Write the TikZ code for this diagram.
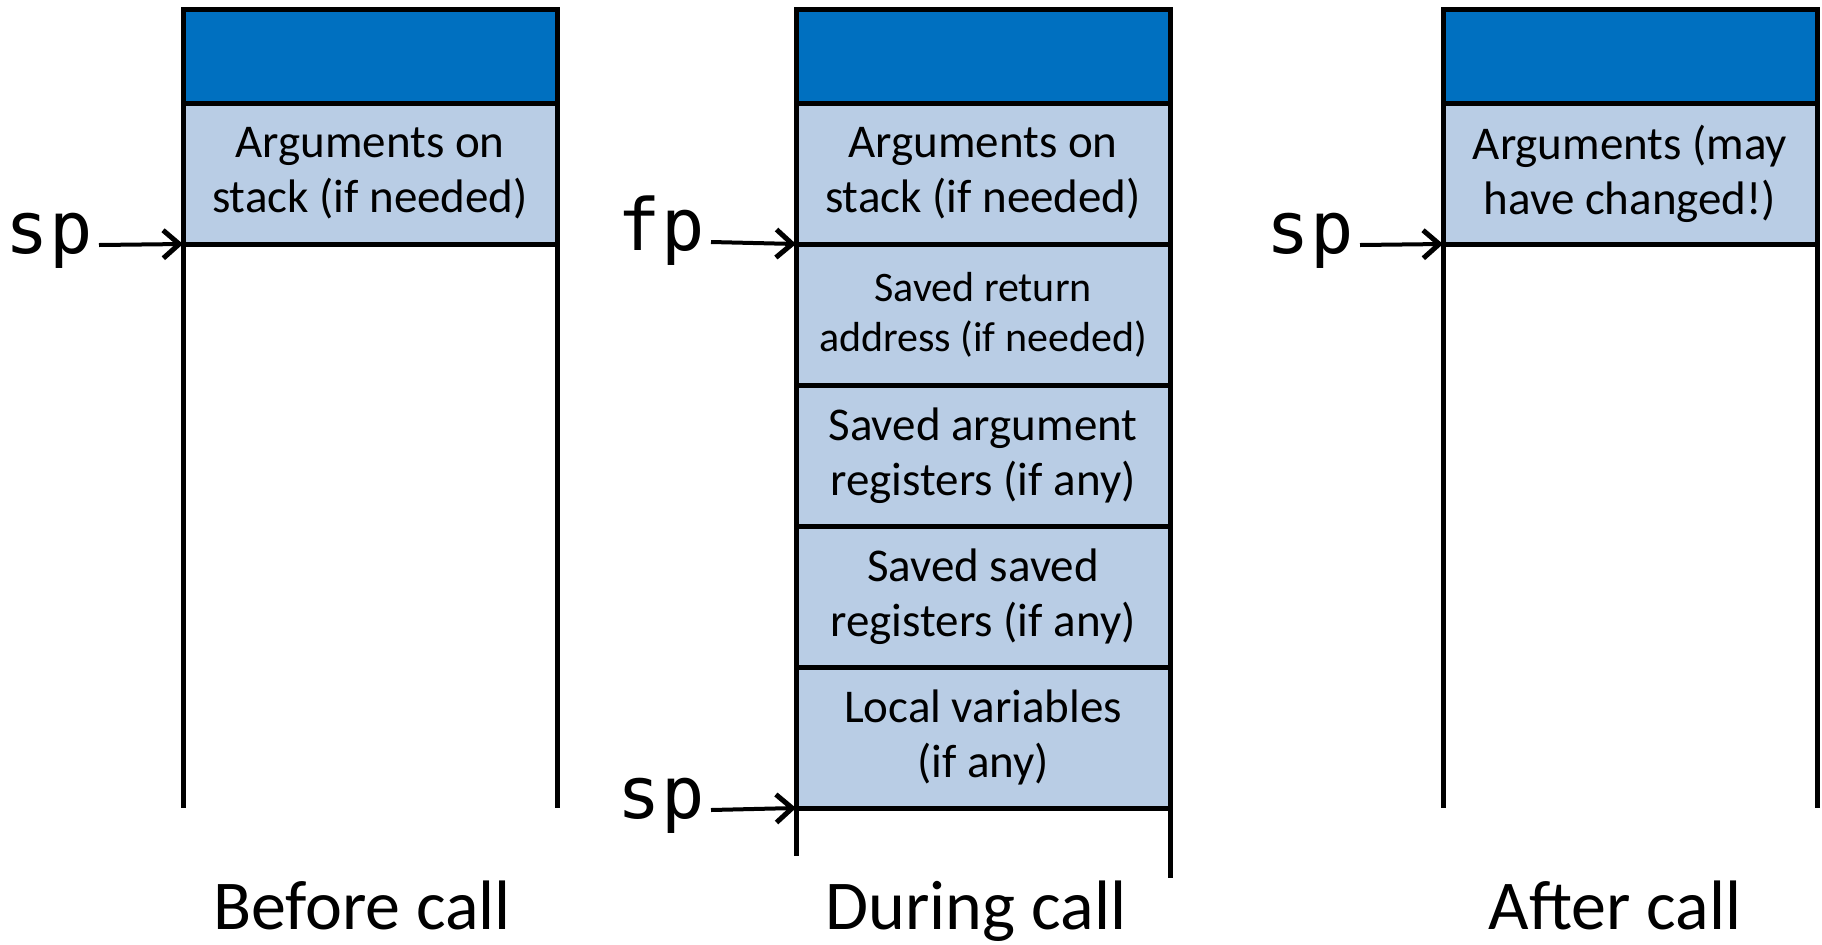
\documentclass[tikz,border=0pt]{standalone}
\usepackage{fontspec}
\setmainfont{Carlito}
\newfontfamily\ptrfont{DejaVu Sans Mono}
\usetikzlibrary{positioning,arrows.meta}

\definecolor{framedark}{HTML}{0070C0}
\definecolor{framelight}{HTML}{B9CDE5}

\tikzset{
  cell/.style={draw, line width=2.5pt, fill=framelight, inner sep=0pt, outer sep=0pt,
    minimum width=187pt, minimum height=70.5pt, align=center,
    font=\fontsize{23.5}{27.5}\selectfont},
  topcell/.style={cell, fill=framedark, minimum height=47pt},
  wall/.style={line width=2.5pt},
  ptr/.style={line width=2pt, -{Straight Barb[length=8pt,width=14pt,line width=2.5pt]}},
  ptrlabel/.style={inner sep=0pt, anchor=base east, font=\ptrfont\fontsize{36}{40}\selectfont},
  caption/.style={inner sep=0pt, anchor=base, font=\fontsize{35}{40}\selectfont}
}

\begin{document}
\begin{tikzpicture}[x=0.5pt,y=-0.5pt]
\useasboundingbox (0,0) rectangle (1822,944);

% before call
\node [topcell] (btop) at (370,56) {};
\node [cell, below=0pt of btop] (bargs) {Arguments on\\stack (if needed)};
\draw [wall] (bargs.south west) -- ++(0,564);
\draw [wall] (bargs.south east) -- ++(0,564);
\node [ptrlabel] (bsp) at (93,253) {sp};
\draw [ptr] (bsp.base east) ++(6,-8) -- (bargs.south west);
\node [caption] (bcap) at (362,929) {Before call};

% during call
\node [topcell] (dtop) at (983,56) {};
\node [cell, below=0pt of dtop] (dargs) {Arguments on\\stack (if needed)};
\node [cell, below=0pt of dargs, font=\fontsize{21}{25}\selectfont] (dret) {Saved return\\address (if needed)};
\node [cell, below=0pt of dret] (dargreg) {Saved argument\\registers (if any)};
\node [cell, below=0pt of dargreg] (dsavreg) {Saved saved\\registers (if any)};
\node [cell, below=0pt of dsavreg] (dlocal) {Local variables\\(if any)};
\draw [wall] (dlocal.south west) -- ++(0,48);
\draw [wall] (dlocal.south east) -- ++(0,70);
\node [ptrlabel] (dfp) at (705,250) {fp};
\draw [ptr] (dfp.base east) ++(6,-8) -- (dargs.south west);
\node [ptrlabel] (dsp) at (705,818) {sp};
\draw [ptr] (dsp.base east) ++(6,-8) -- (dlocal.south west);
\node [caption] (dcap) at (976,929) {During call};

% after call
\node [topcell] (atop) at (1630,56) {};
\node [cell, below=0pt of atop] (aargs) {Arguments (may\\have changed!)};
\draw [wall] (aargs.south west) -- ++(0,564);
\draw [wall] (aargs.south east) -- ++(0,564);
\node [ptrlabel] (asp) at (1354,253) {sp};
\draw [ptr] (asp.base east) ++(6,-8) -- (aargs.south west);
\node [caption] (acap) at (1615,929) {After call};

\end{tikzpicture}
\end{document}
